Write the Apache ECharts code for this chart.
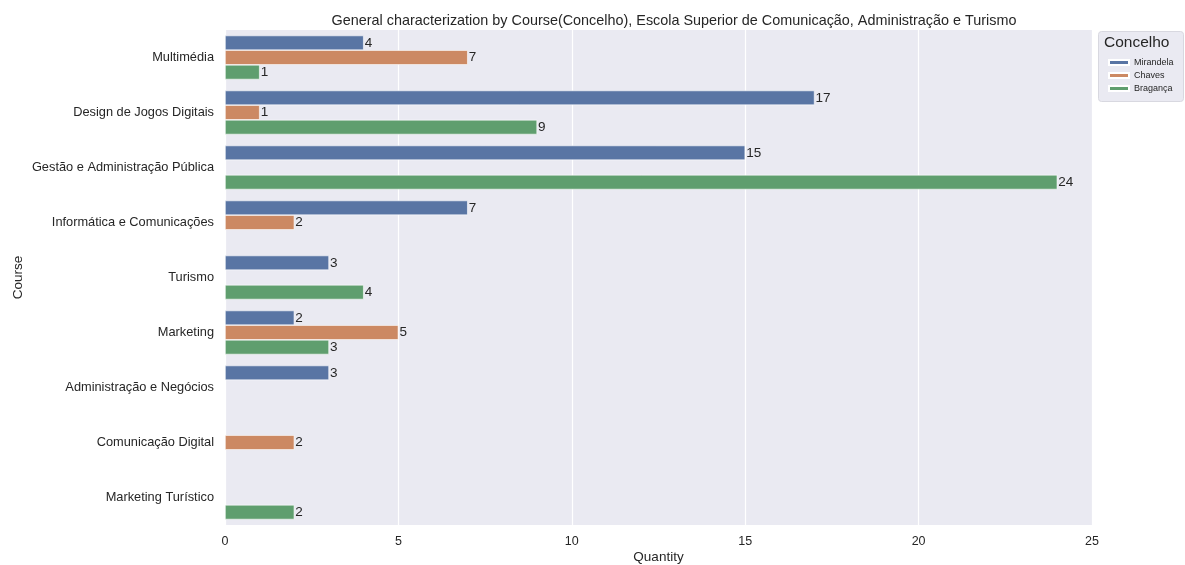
<!DOCTYPE html>
<html>
<head>
<meta charset="utf-8">
<script src="https://cdn.jsdelivr.net/npm/echarts@6/dist/echarts.min.js"></script>
<style>html,body{margin:0;padding:0;background:#fff;}#c{width:1185px;height:565px;}</style>
</head>
<body>
<div id="c"></div>
<script>
const categories = ["Multimédia","Design de Jogos Digitais","Gestão e Administração Pública","Informática e Comunicações","Turismo","Marketing","Administração e Negócios","Comunicação Digital","Marketing Turístico"];
const seriesNames = ["Mirandela","Chaves","Bragança"];
const mirandela = [4,17,15,7,3,2,3,null,null];
const chaves = [7,1,null,2,null,5,null,2,null];
const braganca = [1,9,24,null,4,3,null,null,2];
const xTicks = [0,5,10,15,20,25];
const colors = ["#5975A4","#CC8963","#5F9E6E"];
const values = [mirandela, chaves, braganca];
const FONT = "Liberation Sans, Arial, sans-serif";

const chart = echarts.init(document.getElementById('c'));
chart.setOption({
  animation:false,
  backgroundColor:'#fff',
  title:{text:'General characterization by Course(Concelho), Escola Superior de Comunicação, Administração e Turismo',
    left:669, top:9, textAlign:'center',
    textStyle:{fontFamily:FONT,fontSize:14.4,fontWeight:'normal',color:'#262626'}},
  grid:{left:225,right:93,top:30,bottom:40,show:true,backgroundColor:'#EAEAF2',borderWidth:0,
    containLabel:false,outerBoundsMode:'none'},
  xAxis:{type:'value',min:xTicks[0],max:xTicks[xTicks.length-1],interval:5,
    name:'Quantity',nameLocation:'middle',nameGap:25,nameMoveOverlap:false,
    nameTextStyle:{fontFamily:FONT,fontSize:13.5,color:'#262626'},
    axisLine:{show:false},axisTick:{show:false},
    axisLabel:{fontFamily:FONT,fontSize:12.5,color:'#262626',margin:10},
    splitLine:{show:true,lineStyle:{color:'#ffffff',width:1.2}}},
  yAxis:{type:'category',data:categories,inverse:true,
    name:'Course',nameLocation:'middle',nameGap:200,nameRotate:90,nameMoveOverlap:false,
    nameTextStyle:{fontFamily:FONT,fontSize:13.5,color:'#262626'},
    axisLine:{show:false},axisTick:{show:false},
    axisLabel:{fontFamily:FONT,fontSize:12.8,color:'#262626',margin:11},
    splitLine:{show:false}},
  legend:{data:seriesNames,orient:'vertical',left:1103,top:53,itemWidth:20,itemHeight:5,itemGap:4,
    icon:'rect',textStyle:{fontFamily:FONT,fontSize:9,color:'#262626'}},
  graphic:[
    {type:'rect',left:1098,top:31,z:-1,shape:{width:85,height:70,r:3},
      style:{fill:'#EAEAF2',stroke:'#d8d8e0',lineWidth:1}},
    {type:'text',left:1104,top:35,style:{text:'Concelho',fontFamily:FONT,fontSize:15.5,fill:'#262626'}}
  ],
  series: seriesNames.map((n,i)=>({
    name:n,type:'bar',data:values[i],
    barCategoryGap:'20%',barGap:'0%',
    itemStyle:{color:colors[i],borderColor:'#ffffff',borderWidth:0.6},
    label:{show:true,position:'right',distance:1,fontFamily:FONT,fontSize:13.5,color:'#262626'}
  }))
});
</script>
</body>
</html>
